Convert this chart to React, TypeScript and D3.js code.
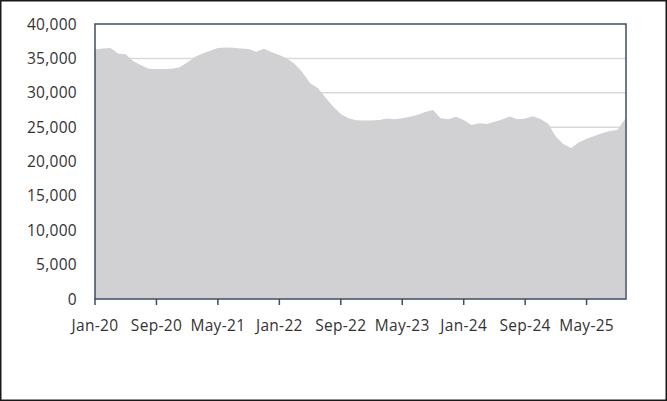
import React from "react";
import * as d3 from "d3";

const months: string[] = (() => {
  const names = ["Jan","Feb","Mar","Apr","May","Jun","Jul","Aug","Sep","Oct","Nov","Dec"];
  const out: string[] = [];
  for (let y = 20; y <= 25; y++) for (let m = 0; m < 12; m++) out.push(`${names[m]}-${y}`);
  return out.slice(0, 70);
})();

const values: number[] = [
  36300, 36450, 36500, 35700, 35600, 34600, 34000, 33500, 33450, 33450,
  33500, 33700, 34400, 35200, 35700, 36100, 36500, 36600, 36550, 36450,
  36350, 35950, 36400, 35900, 35500, 35000, 34200, 33000, 31400, 30700,
  29300, 28000, 26900, 26300, 26000, 25950, 25950, 26050, 26250, 26150,
  26300, 26500, 26800, 27200, 27500, 26300, 26150, 26500, 26050, 25300,
  25550, 25450, 25800, 26100, 26550, 26150, 26250, 26600, 26200, 25500,
  23600, 22500, 21950, 22800, 23300, 23700, 24100, 24450, 24600, 26200,
];

const yTicks: number[] = [0, 5000, 10000, 15000, 20000, 25000, 30000, 35000, 40000];
const xTickLabels: string[] = ["Jan-20","Sep-20","May-21","Jan-22","Sep-22","May-23","Jan-24","Sep-24","May-25"];

const W = 667, H = 401;
const left = 95, right = 626, top = 24, bottom = 299;

export default function App() {
  const x = d3.scaleLinear().domain([0, values.length - 1]).range([left, right - 1]);
  const y = d3.scaleLinear().domain([0, 40000]).range([bottom, top]);
  const area = d3.area<number>().x((_, i) => x(i)).y0(y(0)).y1((d) => y(d)).curve(d3.curveLinear);
  const fmt = d3.format(",");
  const font = "'Open Sans', sans-serif";
  return (
    <svg width={W} height={H} style={{ position: "absolute", left: 0, top: 0, background: "#fff" }}>
      <rect x={0.75} y={0.75} width={W - 1.5} height={H - 1.5} fill="#fff" stroke="#1a1a1a" strokeWidth={1.5} />
      {yTicks.filter((t) => t > 0 && t < 40000).map((t) => (
        <line key={t} x1={left} x2={right} y1={y(t)} y2={y(t)} stroke="#d9d9d9" strokeWidth={1.5} />
      ))}
      <path d={area(values) || ""} fill="#d1d0d2" />
      <rect x={left} y={top} width={right - left} height={bottom - top} fill="none" stroke="#3f4e60" strokeWidth={1.5} />
      {xTickLabels.map((lab) => {
        const i = months.indexOf(lab);
        const xx = x(i);
        return (
          <g key={lab}>
            <line x1={xx} x2={xx} y1={bottom} y2={bottom + 6} stroke="#3f4e60" strokeWidth={1.5} />
            <text x={xx} y={331} textAnchor="middle" fontFamily={font} fontSize={15.5} fill="#333333" letterSpacing={0.3}>{lab}</text>
          </g>
        );
      })}
      {yTicks.map((t) => (
        <text key={t} x={77} y={y(t) + 5.5} textAnchor="end" fontFamily={font} fontSize={15.5} fill="#333333" letterSpacing={0.3}>{fmt(t)}</text>
      ))}
    </svg>
  );
}
